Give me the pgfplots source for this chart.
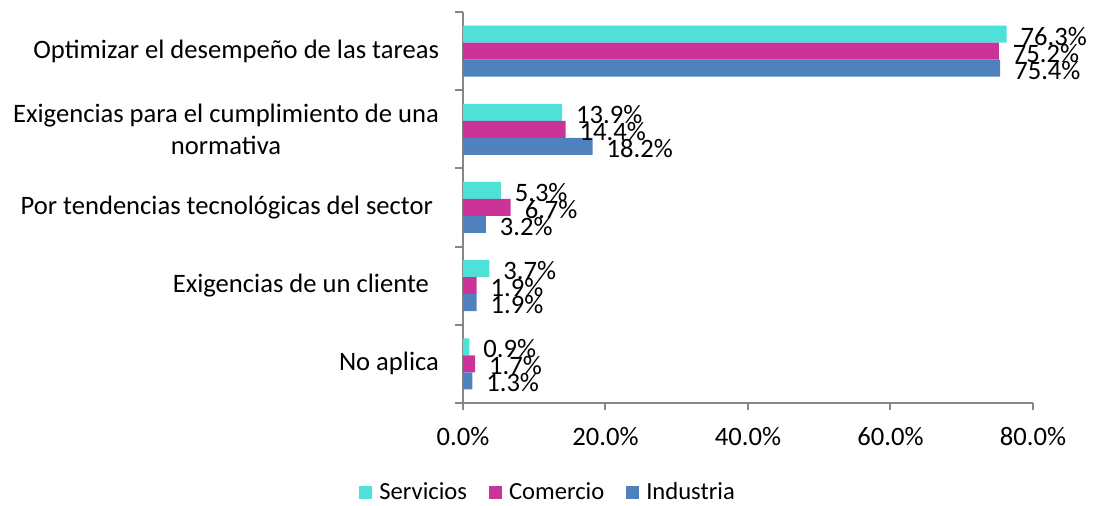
\documentclass[border=0pt]{standalone}
\usepackage{fontspec}
\setmainfont{Carlito}
\usepackage{pgfplots}
\pgfplotsset{compat=1.18}
\definecolor{servicios}{HTML}{4FE0D8}
\definecolor{comercio}{HTML}{CC3399}
\definecolor{industria}{HTML}{4F81BD}
\definecolor{axisgray}{HTML}{868686}

\begin{document}
\begin{tikzpicture}[font=\fontsize{13.3}{16}\selectfont]
\begin{axis}[
    at={(0,0)}, anchor=south west,
    scale only axis,
    width=285pt, height=195.5pt,
    xmin=0, xmax=80, ymin=-0.5, ymax=4.5,
    clip=false,
    axis x line*=bottom, axis y line*=left,
    axis line style={axisgray, line width=1pt},
    every tick/.style={axisgray, line width=1pt},
    tick align=outside,
    major tick length=3.5pt,
    minor tick length=4pt,
    xtick={0,20,40,60,80},
    xticklabels={0.0\%,20.0\%,40.0\%,60.0\%,80.0\%},
    xticklabel style={yshift=-5pt},
    ytick={0,1,2,3,4},
    yticklabels={No aplica,
        Exigencias de un cliente\hspace{5pt},
        Por tendencias tecnológicas del sector\hspace{3pt},
        {Exigencias para el cumplimiento de una\\normativa},
        Optimizar el desempeño de las tareas},
    yticklabel style={align=center, xshift=-5pt},
    major y tick style={draw=none},
    minor ytick={-0.5,0.5,1.5,2.5,3.5,4.5},
    xbar,
    bar width=8.5pt,
    nodes near coords={\pgfmathprintnumber[fixed,fixed zerofill,precision=1,assume math mode=true]{\pgfplotspointmeta}\%},
    nodes near coords style={anchor=west, xshift=3.5pt, yshift=-1pt, black},
    point meta=x,
    legend style={at={(0.151,-0.228)}, anchor=center, legend columns=-1,
        draw=none, fill=none, font=\fontsize{12.3}{14}\selectfont,
        /tikz/every odd column/.append style={column sep=1.5pt},
        /tikz/every even column/.append style={column sep=9pt}},
    legend image code/.code={\fill[#1] (0pt,-3.25pt) rectangle (6.5pt,3.25pt);},
]
% Servicios
\addplot[fill=servicios, draw=none, bar shift=8.5pt] coordinates {
    (0.9,0) (3.7,1) (5.3,2) (13.9,3) (76.3,4)
};
% Comercio
\addplot[fill=comercio, draw=none, bar shift=0pt] coordinates {
    (1.7,0) (1.9,1) (6.7,2) (14.4,3) (75.2,4)
};
% Industria
\addplot[fill=industria, draw=none, bar shift=-8.5pt] coordinates {
    (1.3,0) (1.9,1) (3.2,2) (18.2,3) (75.4,4)
};
\legend{Servicios, Comercio, Industria}
\end{axis}
\pgfresetboundingbox
\path[use as bounding box] (-231.5pt,-51.5pt) rectangle (315pt,201.5pt);
\end{tikzpicture}
\end{document}
